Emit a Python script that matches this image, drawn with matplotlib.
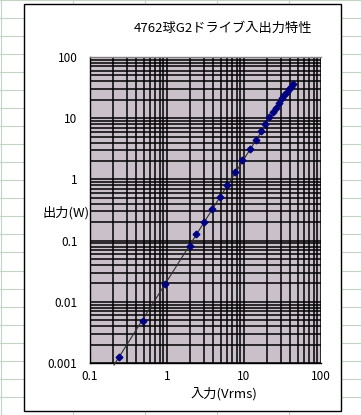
import numpy as np
import matplotlib
matplotlib.use("Agg")
import matplotlib.pyplot as plt
from matplotlib.lines import Line2D
from matplotlib.patches import Rectangle
from matplotlib.ticker import LogLocator, FixedLocator, FixedFormatter, NullFormatter

plt.rcParams['font.family'] = ['Noto Sans CJK JP', 'DejaVu Sans']

# ---- data ----
vin = [0.238, 0.492, 0.951, 1.96, 2.39, 3.04, 3.84, 4.83, 6.06, 7.69, 9.51,
       12.1, 14.5, 16.8, 19.0, 21.1, 24.0, 26.3, 28.7, 31.2, 33.4, 35.9,
       38.1, 40.8, 43.7]
pout = [0.00124, 0.00494, 0.0198, 0.0817, 0.127, 0.199, 0.325, 0.510, 0.81,
        1.31, 2.05, 3.10, 4.46, 6.13, 8.04, 10.3, 12.5, 14.8, 17.9, 21.1,
        23.9, 27.1, 30.0, 32.7, 36.2]
x_ticks = [0.1, 1, 10, 100]
x_tick_labels = ["0.1", "1", "10", "100"]
y_ticks = [0.001, 0.01, 0.1, 1, 10, 100]
y_tick_labels = ["0.001", "0.01", "0.1", "1", "10", "100"]
title = "4762球G2ドライブ入出力特性"
xlabel = "入力(Vrms)"
ylabel = "出力(W)"

W, H = 361, 415
fig = plt.figure(figsize=(W / 100, H / 100), dpi=100)
fig.patch.set_facecolor("white")

# spreadsheet grid behind the chart
sheet_col = "#c4d4c4"
for xp in range(0, W + 1, 72):
    fig.add_artist(Line2D([(xp + 0.5) / W] * 2, [0, 1], color=sheet_col, lw=0.8,
                          transform=fig.transFigure, zorder=0))
for yp in range(0, H + 1, 18):
    fig.add_artist(Line2D([0, 1], [1 - (yp + 0.5) / H] * 2, color=sheet_col, lw=0.8,
                          transform=fig.transFigure, zorder=0))

# chart area
fig.add_artist(Rectangle((24 / W, 1 - 410.5 / H), (340.5 - 24) / W, (410.5 - 4.5) / H,
                         transform=fig.transFigure, facecolor="white",
                         edgecolor="black", lw=1.0, zorder=1))

ax = fig.add_axes([90 / W, 1 - 363 / H, 231 / W, 306 / H], zorder=2)
ax.set_facecolor("#c9c0c9")
ax.set_xscale("log")
ax.set_yscale("log")
ax.set_xlim(0.1, 100)
ax.set_ylim(0.001, 100)

ax.xaxis.set_major_locator(FixedLocator(x_ticks))
ax.xaxis.set_major_formatter(FixedFormatter(x_tick_labels))
ax.yaxis.set_major_locator(FixedLocator(y_ticks))
ax.yaxis.set_major_formatter(FixedFormatter(y_tick_labels))
ax.xaxis.set_minor_locator(LogLocator(base=10, subs=np.arange(2, 10), numticks=20))
ax.yaxis.set_minor_locator(LogLocator(base=10, subs=np.arange(2, 10), numticks=20))
ax.xaxis.set_minor_formatter(NullFormatter())
ax.yaxis.set_minor_formatter(NullFormatter())

ax.grid(True, which="both", color="black", lw=1.1)
ax.set_axisbelow(True)
ax.tick_params(which="both", length=0, labelsize=8.5)
ax.tick_params(axis="y", pad=9)
ax.tick_params(axis="x", pad=5)
for s in ax.spines.values():
    s.set_color("black")
    s.set_linewidth(1.0)
ax.spines["top"].set_color("#808080")
ax.spines["right"].set_visible(False)

# power-law trend line
lx = np.log10(vin)
ly = np.log10(pout)
k, b = np.polyfit(lx, ly, 1)
xt = np.array([0.205, max(vin)])
ax.plot(xt, 10 ** (b + k * np.log10(xt)), color="#303030", lw=0.8,
        clip_on=False, zorder=3)

ax.plot(vin, pout, linestyle="none", marker="D", markersize=3.4,
        color="#000080", zorder=4)

fig.text(222.5 / W, 1 - 28.5 / H, title, ha="center", va="center", fontsize=9.5)
fig.text(223.5 / W, 1 - 394 / H, xlabel, ha="center", va="center", fontsize=9.5)
fig.text(90 / W, 1 - 213 / H, ylabel, ha="right", va="center", fontsize=9.5)

fig.savefig("out.png", dpi=100)
